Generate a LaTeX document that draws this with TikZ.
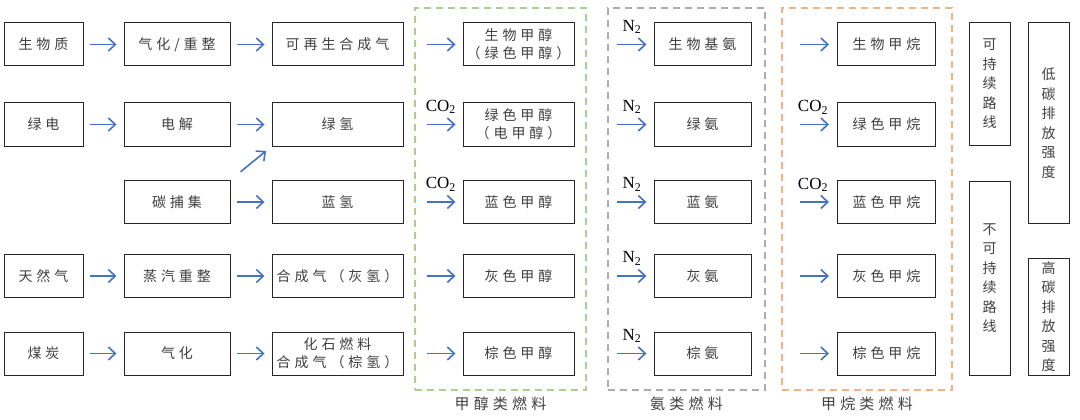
\documentclass[tikz,border=0pt]{standalone}
\usepackage{fontspec}
\usepackage{xcolor}
\usepackage{tikz}
\usetikzlibrary{positioning, arrows.meta, calc}
\newfontfamily\cjk[LetterSpace=28]{Noto Sans CJK SC}
\newfontfamily\cjkcol{Noto Sans CJK SC}
\newfontfamily\gasfont{Liberation Serif}
\definecolor{ink}{HTML}{404040}
\definecolor{flowblue}{HTML}{4472C4}
\definecolor{meoh}{HTML}{A9D18E}
\definecolor{nhthree}{HTML}{AFABAB}
\definecolor{chfour}{HTML}{F4B183}
\tikzset{
  proc/.style={
    draw=black!85,
    line width=1pt,
    fill=white,
    minimum height=43pt,
    align=center,
    font=\cjk\fontsize{14}{18}\selectfont,
    text=ink,
    inner sep=1pt
  },
  route/.style={
    proc,
    minimum width=41pt,
    font=\cjkcol\fontsize{14}{19.5}\selectfont
  },
  flow arrow/.style={
    -{Straight Barb[length=7pt,width=13pt]},
    line width=1.6pt,
    color=flowblue,
    shorten >=7pt
  },
  fuel frame/.style={
    dash pattern=on 7pt off 5pt,
    line width=1.5pt,
    minimum height=382pt
  },
  frame text/.style={font=\cjk\fontsize{15}{18}\selectfont, text=ink},
  gas/.style={font=\gasfont\fontsize{17}{17}\selectfont, text=black, inner sep=0pt}
}

\begin{document}
\begin{tikzpicture}[x=1pt, y=-1pt]
  \useasboundingbox (0,0) rectangle (1080,420);

  % fuel groups
  \node[fuel frame, draw=meoh, minimum width=171pt] (meoh frame) at (500.5,199) {};
  \node[fuel frame, draw=nhthree, minimum width=157pt] (nh3 frame) at (686.5,199) {};
  \node[fuel frame, draw=chfour, minimum width=170pt] (ch4 frame) at (867,199) {};
  \node[frame text, below=3pt of meoh frame.south] (meoh text) {甲醇类燃料};
  \node[frame text, below=3pt of nh3 frame.south] (nh3 text) {氨类燃料};
  \node[frame text, below=3pt of ch4 frame.south] (ch4 text) {甲烷类燃料};

  % sources
  \node[proc, minimum width=79pt] (bio) at (43.5,44.5) {生物质};
  \node[proc, minimum width=79pt] (gpower) at (43.5,124.5) {绿电};
  \node[proc, minimum width=79pt] (ngas) at (43.5,276) {天然气};
  \node[proc, minimum width=79pt] (coal) at (43.5,353.5) {煤炭};

  % processes
  \node[proc, minimum width=106pt] (gasref) at (177,44.5) {气化/重整};
  \node[proc, minimum width=106pt] (elys) at (177,124.5) {电解};
  \node[proc, minimum width=106pt] (ccs) at (177,202) {碳捕集};
  \node[proc, minimum width=106pt] (smr) at (177,276) {蒸汽重整};
  \node[proc, minimum width=106pt] (gasif) at (177,353.5) {气化};

  % hydrogen / syngas
  \node[proc, minimum width=131pt] (rsyn) at (337.5,44.5) {可再生合成气};
  \node[proc, minimum width=131pt] (gh2) at (337.5,124.5) {绿氢};
  \node[proc, minimum width=131pt] (bh2) at (337.5,202) {蓝氢};
  \node[proc, minimum width=131pt] (gysyn) at (337.5,276) {合成气（灰氢）};
  \node[proc, minimum width=131pt] (brsyn) at (337.5,353.5) {化石燃料\\合成气（棕氢）};

  % methanol
  \node[proc, minimum width=111pt] (m1) at (518.5,44.5) {生物甲醇\\（绿色甲醇）};
  \node[proc, minimum width=111pt] (m2) at (518.5,124.5) {绿色甲醇\\（电甲醇）};
  \node[proc, minimum width=111pt] (m3) at (518.5,202) {蓝色甲醇};
  \node[proc, minimum width=111pt] (m4) at (518.5,276) {灰色甲醇};
  \node[proc, minimum width=111pt] (m5) at (518.5,353.5) {棕色甲醇};

  % ammonia
  \node[proc, minimum width=97pt] (a1) at (702.5,44.5) {生物基氨};
  \node[proc, minimum width=97pt] (a2) at (702.5,124.5) {绿氨};
  \node[proc, minimum width=97pt] (a3) at (702.5,202) {蓝氨};
  \node[proc, minimum width=97pt] (a4) at (702.5,276) {灰氨};
  \node[proc, minimum width=97pt] (a5) at (702.5,353.5) {棕氨};

  % methane
  \node[proc, minimum width=98pt] (c1) at (886.5,44.5) {生物甲烷};
  \node[proc, minimum width=98pt] (c2) at (886.5,124.5) {绿色甲烷};
  \node[proc, minimum width=98pt] (c3) at (886.5,202) {蓝色甲烷};
  \node[proc, minimum width=98pt] (c4) at (886.5,276) {灰色甲烷};
  \node[proc, minimum width=98pt] (c5) at (886.5,353.5) {棕色甲烷};

  % routes and intensity
  \node[route, minimum height=122pt] (sust) at (989.5,84) {可\\持\\续\\路\\线};
  \node[route, minimum height=194pt] (unsust) at (989.5,278) {不\\可\\持\\续\\路\\线};
  \node[route, minimum height=200pt] (lowc) at (1048.5,123) {低\\碳\\排\\放\\强\\度};
  \node[route, minimum height=117pt] (highc) at (1048.5,316.5) {高\\碳\\排\\放\\强\\度};

  % arrows between boxes
  \foreach \a/\b in {bio/gasref, gasref/rsyn, gpower/elys, elys/gh2, ccs/bh2,
                     ngas/smr, smr/gysyn, coal/gasif, gasif/brsyn}
    \draw[flow arrow, shorten <=6pt] (\a) -- (\b);
  \draw[flow arrow, shorten <=13pt] (ccs.north east) -- (gh2.south west);

  % feed arrows into fuels
  \foreach \i in {1,...,5} {
    \coordinate (in m\i) at ($(m\i.west)+(-36,0)$);
    \coordinate (in a\i) at ($(a\i.west)+(-37,0)$);
    \coordinate (in c\i) at ($(c\i.west)+(-37,0)$);
    \draw[flow arrow, shorten >=8pt] (in c\i) -- (c\i);
  }
  \draw[flow arrow] (in m1) -- (m1);
  \draw[flow arrow] (in m2) -- node[gas, above=10pt, pos=0.4] (co2 m2) {CO\textsubscript{2}} (m2);
  \draw[flow arrow] (in m3) -- node[gas, above=10pt, pos=0.4] (co2 m3) {CO\textsubscript{2}} (m3);
  \draw[flow arrow] (in m4) -- (m4);
  \draw[flow arrow] (in m5) -- (m5);
  \foreach \i in {1,...,5}
    \draw[flow arrow] (in a\i) -- node[gas, above=10pt, pos=0.42] (n2 a\i) {N\textsubscript{2}} (a\i);
  \node[gas, above=10pt] (co2 c2) at ($(in c2)+(13,0)$) {CO\textsubscript{2}};
  \node[gas, above=10pt] (co2 c3) at ($(in c3)+(13,0)$) {CO\textsubscript{2}};
\end{tikzpicture}
\end{document}
